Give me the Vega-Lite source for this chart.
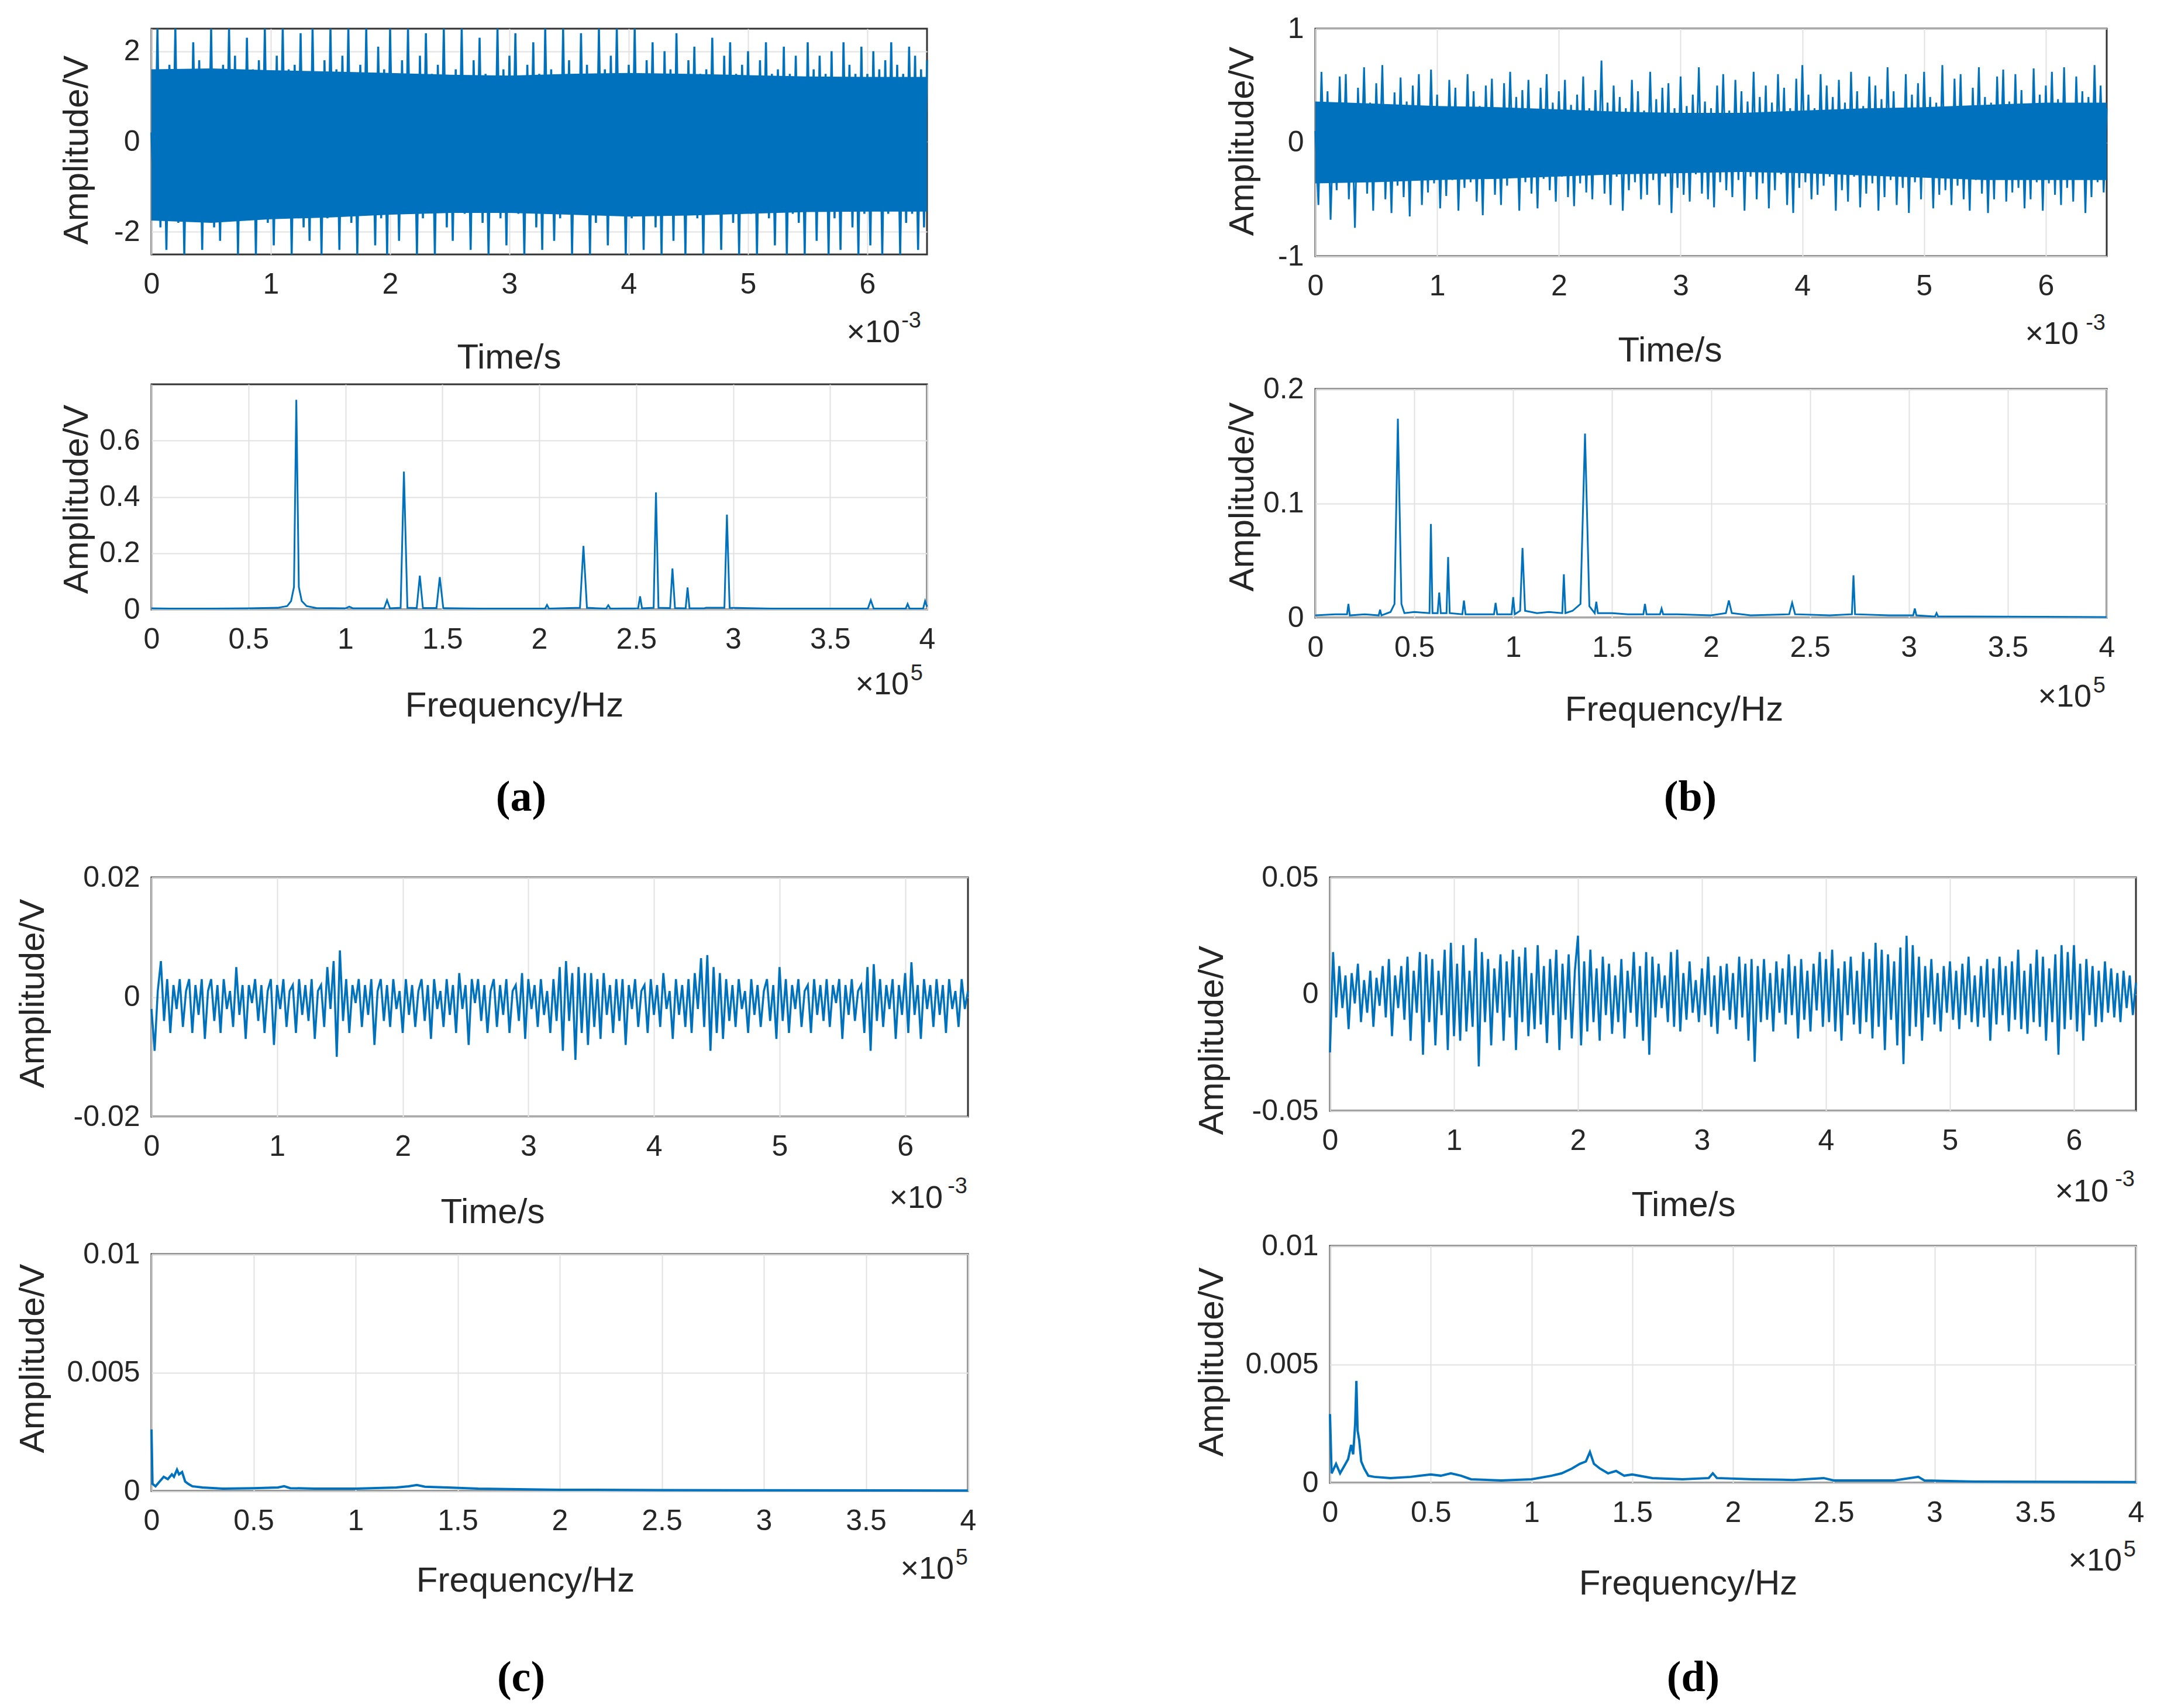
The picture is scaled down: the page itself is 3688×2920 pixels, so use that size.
{
"$schema": "https://vega.github.io/schema/vega-lite/v6.json",
"background": "white",
"padding": {"left": 24, "top": 22, "right": 10, "bottom": 10},
"config": {
 "view": {"stroke": "#333333", "strokeWidth": 3},
 "font": "Liberation Sans",
 "axis": {"grid": true, "gridColor": "#e2e2e2", "gridWidth": 2, "domain": false, "ticks": false, "labelFont": "Liberation Sans", "labelFontSize": 50, "labelColor": "#262626", "titleFont": "Liberation Sans", "titleFontSize": 60, "titleFontWeight": "normal", "titleColor": "#262626", "titleAlign": "center", "titleBaseline": "middle"},
 "axisX": {"labelFlush": false, "labelPadding": 26, "labelOverlap": false},
 "axisY": {"labelPadding": 20, "titleAngle": -90},
 "line": {"color": "#0072bd", "clip": true},
 "area": {"color": "#0072bd", "clip": true, "opacity": 1},
 "text": {"font": "Liberation Sans", "color": "#262626"},
 "title": {"font": "Liberation Serif", "fontSize": 74, "fontWeight": "bold", "color": "#000000", "orient": "bottom", "anchor": "middle", "frame": "group", "baseline": "top"}
},
"datasets": {
"ae": [
{"t":0,"lo":-1.75,"hi":1.6},{"t":0.5,"lo":-1.8,"hi":1.62},{"t":1,"lo":-1.72,"hi":1.58},{"t":1.5,"lo":-1.68,"hi":1.55},{"t":2,"lo":-1.62,"hi":1.52},{"t":2.5,"lo":-1.58,"hi":1.48},{"t":3,"lo":-1.58,"hi":1.46},{"t":3.5,"lo":-1.62,"hi":1.5},{"t":4,"lo":-1.66,"hi":1.52},{"t":4.5,"lo":-1.64,"hi":1.5},{"t":5,"lo":-1.6,"hi":1.47},{"t":5.5,"lo":-1.56,"hi":1.44},{"t":6,"lo":-1.55,"hi":1.43},{"t":6.5,"lo":-1.55,"hi":1.43}
],
"be": [
{"t":0,"lo":-0.36,"hi":0.36},{"t":0.5,"lo":-0.35,"hi":0.34},{"t":1,"lo":-0.33,"hi":0.32},{"t":1.5,"lo":-0.32,"hi":0.31},{"t":2,"lo":-0.3,"hi":0.29},{"t":2.5,"lo":-0.28,"hi":0.27},{"t":3,"lo":-0.27,"hi":0.26},{"t":3.5,"lo":-0.26,"hi":0.26},{"t":4,"lo":-0.27,"hi":0.28},{"t":4.5,"lo":-0.29,"hi":0.3},{"t":5,"lo":-0.31,"hi":0.31},{"t":5.5,"lo":-0.33,"hi":0.33},{"t":6,"lo":-0.33,"hi":0.35},{"t":6.5,"lo":-0.33,"hi":0.35}
],
"at": [
{"t":0,"v":0.2},{"t":0.025,"v":-1.7},{"t":0.05,"v":2.5},{"t":0.075,"v":-1.9},{"t":0.1,"v":1.5},{"t":0.125,"v":-2.4},{"t":0.15,"v":1.7},{"t":0.175,"v":-1.4},{"t":0.2,"v":2.5},{"t":0.225,"v":-1.8},
{"t":0.25,"v":1.6},{"t":0.275,"v":-2.5},{"t":0.3,"v":1.4},{"t":0.325,"v":-1.6},{"t":0.35,"v":2.2},{"t":0.375,"v":-1.5},{"t":0.4,"v":1.8},{"t":0.425,"v":-2.4},{"t":0.45,"v":1.6},{"t":0.475,"v":-1.3},
{"t":0.5,"v":2.5},{"t":0.525,"v":-1.9},{"t":0.55,"v":1.5},{"t":0.575,"v":-2.2},{"t":0.6,"v":1.7},{"t":0.625,"v":-1.6},{"t":0.65,"v":2.5},{"t":0.675,"v":-1.4},{"t":0.7,"v":1.9},{"t":0.725,"v":-2.5},
{"t":0.75,"v":1.5},{"t":0.775,"v":-1.7},{"t":0.8,"v":2.3},{"t":0.825,"v":-1.6},{"t":0.85,"v":1.6},{"t":0.875,"v":-2.5},{"t":0.9,"v":1.8},{"t":0.925,"v":-1.5},{"t":0.95,"v":2.5},{"t":0.975,"v":-1.8},
{"t":1,"v":1.4},{"t":1.025,"v":-2.3},{"t":1.05,"v":1.9},{"t":1.075,"v":-1.6},{"t":1.1,"v":2.5},{"t":1.125,"v":-1.5},{"t":1.15,"v":1.6},{"t":1.175,"v":-2.5},{"t":1.2,"v":1.7},{"t":1.225,"v":-1.4},
{"t":1.25,"v":2.4},{"t":1.275,"v":-1.9},{"t":1.3,"v":1.5},{"t":1.325,"v":-2.2},{"t":1.35,"v":2.5},{"t":1.375,"v":-1.6},{"t":1.4,"v":1.4},{"t":1.425,"v":-2.5},{"t":1.45,"v":1.8},{"t":1.475,"v":-1.7},
{"t":1.5,"v":2.5},{"t":1.525,"v":-1.5},{"t":1.55,"v":1.6},{"t":1.575,"v":-2.4},{"t":1.6,"v":1.9},{"t":1.625,"v":-1.4},{"t":1.65,"v":2.5},{"t":1.675,"v":-1.8},{"t":1.7,"v":1.5},{"t":1.725,"v":-2.5},
{"t":1.75,"v":1.7},{"t":1.775,"v":-1.6},{"t":1.8,"v":2.5},{"t":1.825,"v":-1.5},{"t":1.85,"v":1.4},{"t":1.875,"v":-2.3},{"t":1.9,"v":2.1},{"t":1.925,"v":-1.7},{"t":1.95,"v":1.6},{"t":1.975,"v":-2.5},
{"t":2,"v":2.5},{"t":2.025,"v":-1.4},{"t":2.05,"v":1.5},{"t":2.075,"v":-2.2},{"t":2.1,"v":1.8},{"t":2.125,"v":-1.6},{"t":2.15,"v":2.5},{"t":2.175,"v":-1.5},{"t":2.2,"v":1.3},{"t":2.225,"v":-2.5},
{"t":2.25,"v":1.9},{"t":2.275,"v":-1.7},{"t":2.3,"v":2.4},{"t":2.325,"v":-1.4},{"t":2.35,"v":1.5},{"t":2.375,"v":-2.5},{"t":2.4,"v":1.7},{"t":2.425,"v":-1.3},{"t":2.45,"v":2.5},{"t":2.475,"v":-1.9},
{"t":2.5,"v":1.4},{"t":2.525,"v":-2.2},{"t":2.55,"v":1.6},{"t":2.575,"v":-1.5},{"t":2.6,"v":2.5},{"t":2.625,"v":-1.6},{"t":2.65,"v":1.3},{"t":2.675,"v":-2.4},{"t":2.7,"v":1.8},{"t":2.725,"v":-1.4},
{"t":2.75,"v":2.3},{"t":2.775,"v":-1.8},{"t":2.8,"v":1.5},{"t":2.825,"v":-2.5},{"t":2.85,"v":1.4},{"t":2.875,"v":-1.5},{"t":2.9,"v":2.5},{"t":2.925,"v":-1.7},{"t":2.95,"v":1.6},{"t":2.975,"v":-2.3},
{"t":3,"v":1.9},{"t":3.025,"v":-1.4},{"t":3.05,"v":2.4},{"t":3.075,"v":-1.6},{"t":3.1,"v":1.3},{"t":3.125,"v":-2.5},{"t":3.15,"v":1.7},{"t":3.175,"v":-1.5},{"t":3.2,"v":2.2},{"t":3.225,"v":-1.9},
{"t":3.25,"v":1.5},{"t":3.275,"v":-2.4},{"t":3.3,"v":2.5},{"t":3.325,"v":-1.4},{"t":3.35,"v":1.6},{"t":3.375,"v":-2.2},{"t":3.4,"v":1.4},{"t":3.425,"v":-1.7},{"t":3.45,"v":2.5},{"t":3.475,"v":-1.5},
{"t":3.5,"v":1.8},{"t":3.525,"v":-2.5},{"t":3.55,"v":1.5},{"t":3.575,"v":-1.6},{"t":3.6,"v":2.4},{"t":3.625,"v":-1.4},{"t":3.65,"v":1.7},{"t":3.675,"v":-2.5},{"t":3.7,"v":1.4},{"t":3.725,"v":-1.8},
{"t":3.75,"v":2.5},{"t":3.775,"v":-1.5},{"t":3.8,"v":1.6},{"t":3.825,"v":-2.3},{"t":3.85,"v":1.9},{"t":3.875,"v":-1.6},{"t":3.9,"v":2.5},{"t":3.925,"v":-1.4},{"t":3.95,"v":1.5},{"t":3.975,"v":-2.5},
{"t":4,"v":1.7},{"t":4.025,"v":-1.7},{"t":4.05,"v":2.5},{"t":4.075,"v":-1.5},{"t":4.1,"v":1.4},{"t":4.125,"v":-2.4},{"t":4.15,"v":1.8},{"t":4.175,"v":-1.3},{"t":4.2,"v":2.2},{"t":4.225,"v":-1.9},
{"t":4.25,"v":1.5},{"t":4.275,"v":-2.5},{"t":4.3,"v":2.0},{"t":4.325,"v":-1.6},{"t":4.35,"v":1.6},{"t":4.375,"v":-2.2},{"t":4.4,"v":2.4},{"t":4.425,"v":-1.5},{"t":4.45,"v":1.4},{"t":4.475,"v":-2.5},
{"t":4.5,"v":1.8},{"t":4.525,"v":-1.4},{"t":4.55,"v":2.1},{"t":4.575,"v":-1.7},{"t":4.6,"v":1.5},{"t":4.625,"v":-2.5},{"t":4.65,"v":1.6},{"t":4.675,"v":-1.6},{"t":4.7,"v":2.3},{"t":4.725,"v":-1.5},
{"t":4.75,"v":1.4},{"t":4.775,"v":-2.4},{"t":4.8,"v":1.9},{"t":4.825,"v":-1.4},{"t":4.85,"v":2.2},{"t":4.875,"v":-1.8},{"t":4.9,"v":1.5},{"t":4.925,"v":-2.5},{"t":4.95,"v":1.7},{"t":4.975,"v":-1.5},
{"t":5,"v":2.0},{"t":5.025,"v":-1.6},{"t":5.05,"v":1.4},{"t":5.075,"v":-2.5},{"t":5.1,"v":1.8},{"t":5.125,"v":-1.5},{"t":5.15,"v":2.2},{"t":5.175,"v":-1.7},{"t":5.2,"v":1.5},{"t":5.225,"v":-2.3},
{"t":5.25,"v":1.6},{"t":5.275,"v":-1.4},{"t":5.3,"v":2.1},{"t":5.325,"v":-2.5},{"t":5.35,"v":1.5},{"t":5.375,"v":-1.6},{"t":5.4,"v":1.9},{"t":5.425,"v":-1.8},{"t":5.45,"v":1.4},{"t":5.475,"v":-2.5},
{"t":5.5,"v":2.2},{"t":5.525,"v":-1.5},{"t":5.55,"v":1.6},{"t":5.575,"v":-2.2},{"t":5.6,"v":1.9},{"t":5.625,"v":-1.4},{"t":5.65,"v":1.5},{"t":5.675,"v":-2.5},{"t":5.7,"v":2.0},{"t":5.725,"v":-1.7},
{"t":5.75,"v":1.4},{"t":5.775,"v":-2.4},{"t":5.8,"v":2.2},{"t":5.825,"v":-1.5},{"t":5.85,"v":1.7},{"t":5.875,"v":-1.9},{"t":5.9,"v":1.5},{"t":5.925,"v":-2.5},{"t":5.95,"v":2.1},{"t":5.975,"v":-1.6},
{"t":6,"v":1.5},{"t":6.025,"v":-2.3},{"t":6.05,"v":2.0},{"t":6.075,"v":-1.4},{"t":6.1,"v":1.6},{"t":6.125,"v":-2.5},{"t":6.15,"v":1.8},{"t":6.175,"v":-1.6},{"t":6.2,"v":2.2},{"t":6.225,"v":-1.5},
{"t":6.25,"v":1.7},{"t":6.275,"v":-2.5},{"t":6.3,"v":1.5},{"t":6.325,"v":-1.8},{"t":6.35,"v":2.1},{"t":6.375,"v":-1.6},{"t":6.4,"v":1.9},{"t":6.425,"v":-2.4},{"t":6.45,"v":1.6},{"t":6.475,"v":-1.9},
{"t":6.5,"v":1.8}
],
"bt": [
{"t":0,"v":0.1},{"t":0.025,"v":-0.55},{"t":0.05,"v":0.62},{"t":0.075,"v":-0.3},{"t":0.1,"v":0.45},{"t":0.125,"v":-0.68},{"t":0.15,"v":0.2},{"t":0.175,"v":-0.42},{"t":0.2,"v":0.58},{"t":0.225,"v":-0.35},
{"t":0.25,"v":0.6},{"t":0.275,"v":-0.5},{"t":0.3,"v":0.25},{"t":0.325,"v":-0.75},{"t":0.35,"v":0.48},{"t":0.375,"v":-0.3},{"t":0.4,"v":0.66},{"t":0.425,"v":-0.45},{"t":0.45,"v":0.35},{"t":0.475,"v":-0.6},
{"t":0.5,"v":0.52},{"t":0.525,"v":-0.28},{"t":0.55,"v":0.68},{"t":0.575,"v":-0.5},{"t":0.6,"v":0.3},{"t":0.625,"v":-0.62},{"t":0.65,"v":0.44},{"t":0.675,"v":-0.38},{"t":0.7,"v":0.57},{"t":0.725,"v":-0.48},
{"t":0.75,"v":0.36},{"t":0.775,"v":-0.65},{"t":0.8,"v":0.5},{"t":0.825,"v":-0.25},{"t":0.85,"v":0.6},{"t":0.875,"v":-0.55},{"t":0.9,"v":0.28},{"t":0.925,"v":-0.44},{"t":0.95,"v":0.64},{"t":0.975,"v":-0.36},
{"t":1,"v":0.42},{"t":1.025,"v":-0.58},{"t":1.05,"v":0.3},{"t":1.075,"v":-0.47},{"t":1.1,"v":0.55},{"t":1.125,"v":-0.33},{"t":1.15,"v":0.48},{"t":1.175,"v":-0.6},{"t":1.2,"v":0.25},{"t":1.225,"v":-0.4},
{"t":1.25,"v":0.6},{"t":1.275,"v":-0.35},{"t":1.3,"v":0.45},{"t":1.325,"v":-0.52},{"t":1.35,"v":0.32},{"t":1.375,"v":-0.64},{"t":1.4,"v":0.5},{"t":1.425,"v":-0.28},{"t":1.45,"v":0.56},{"t":1.475,"v":-0.46},
{"t":1.5,"v":0.3},{"t":1.525,"v":-0.55},{"t":1.55,"v":0.52},{"t":1.575,"v":-0.38},{"t":1.6,"v":0.62},{"t":1.625,"v":-0.3},{"t":1.65,"v":0.4},{"t":1.675,"v":-0.6},{"t":1.7,"v":0.46},{"t":1.725,"v":-0.35},
{"t":1.75,"v":0.55},{"t":1.775,"v":-0.45},{"t":1.8,"v":0.28},{"t":1.825,"v":-0.58},{"t":1.85,"v":0.48},{"t":1.875,"v":-0.32},{"t":1.9,"v":0.6},{"t":1.925,"v":-0.42},{"t":1.95,"v":0.35},{"t":1.975,"v":-0.52},
{"t":2,"v":0.45},{"t":2.025,"v":-0.3},{"t":2.05,"v":0.55},{"t":2.075,"v":-0.48},{"t":2.1,"v":0.33},{"t":2.125,"v":-0.56},{"t":2.15,"v":0.42},{"t":2.175,"v":-0.36},{"t":2.2,"v":0.58},{"t":2.225,"v":-0.44},
{"t":2.25,"v":0.3},{"t":2.275,"v":-0.5},{"t":2.3,"v":0.46},{"t":2.325,"v":-0.28},{"t":2.35,"v":0.72},{"t":2.375,"v":-0.45},{"t":2.4,"v":0.35},{"t":2.425,"v":-0.55},{"t":2.45,"v":0.5},{"t":2.475,"v":-0.3},
{"t":2.5,"v":0.4},{"t":2.525,"v":-0.6},{"t":2.55,"v":0.3},{"t":2.575,"v":-0.42},{"t":2.6,"v":0.55},{"t":2.625,"v":-0.35},{"t":2.65,"v":0.45},{"t":2.675,"v":-0.5},{"t":2.7,"v":0.28},{"t":2.725,"v":-0.46},
{"t":2.75,"v":0.62},{"t":2.775,"v":-0.33},{"t":2.8,"v":0.38},{"t":2.825,"v":-0.55},{"t":2.85,"v":0.48},{"t":2.875,"v":-0.3},{"t":2.9,"v":0.52},{"t":2.925,"v":-0.62},{"t":2.95,"v":0.3},{"t":2.975,"v":-0.4},
{"t":3,"v":0.58},{"t":3.025,"v":-0.46},{"t":3.05,"v":0.32},{"t":3.075,"v":-0.52},{"t":3.1,"v":0.42},{"t":3.125,"v":-0.28},{"t":3.15,"v":0.66},{"t":3.175,"v":-0.45},{"t":3.2,"v":0.36},{"t":3.225,"v":-0.5},
{"t":3.25,"v":0.3},{"t":3.275,"v":-0.57},{"t":3.3,"v":0.5},{"t":3.325,"v":-0.35},{"t":3.35,"v":0.6},{"t":3.375,"v":-0.42},{"t":3.4,"v":0.28},{"t":3.425,"v":-0.48},{"t":3.45,"v":0.55},{"t":3.475,"v":-0.33},
{"t":3.5,"v":0.45},{"t":3.525,"v":-0.6},{"t":3.55,"v":0.36},{"t":3.575,"v":-0.3},{"t":3.6,"v":0.62},{"t":3.625,"v":-0.5},{"t":3.65,"v":0.4},{"t":3.675,"v":-0.36},{"t":3.7,"v":0.5},{"t":3.725,"v":-0.58},
{"t":3.75,"v":0.35},{"t":3.775,"v":-0.42},{"t":3.8,"v":0.6},{"t":3.825,"v":-0.28},{"t":3.85,"v":0.48},{"t":3.875,"v":-0.55},{"t":3.9,"v":0.3},{"t":3.925,"v":-0.62},{"t":3.95,"v":0.56},{"t":3.975,"v":-0.4},
{"t":4,"v":0.68},{"t":4.025,"v":-0.35},{"t":4.05,"v":0.42},{"t":4.075,"v":-0.5},{"t":4.1,"v":0.3},{"t":4.125,"v":-0.46},{"t":4.15,"v":0.6},{"t":4.175,"v":-0.38},{"t":4.2,"v":0.5},{"t":4.225,"v":-0.3},
{"t":4.25,"v":0.4},{"t":4.275,"v":-0.6},{"t":4.3,"v":0.55},{"t":4.325,"v":-0.42},{"t":4.35,"v":0.35},{"t":4.375,"v":-0.52},{"t":4.4,"v":0.62},{"t":4.425,"v":-0.3},{"t":4.45,"v":0.45},{"t":4.475,"v":-0.57},
{"t":4.5,"v":0.32},{"t":4.525,"v":-0.45},{"t":4.55,"v":0.58},{"t":4.575,"v":-0.36},{"t":4.6,"v":0.5},{"t":4.625,"v":-0.6},{"t":4.65,"v":0.38},{"t":4.675,"v":-0.48},{"t":4.7,"v":0.66},{"t":4.725,"v":-0.33},
{"t":4.75,"v":0.45},{"t":4.775,"v":-0.55},{"t":4.8,"v":0.3},{"t":4.825,"v":-0.4},{"t":4.85,"v":0.6},{"t":4.875,"v":-0.62},{"t":4.9,"v":0.42},{"t":4.925,"v":-0.35},{"t":4.95,"v":0.52},{"t":4.975,"v":-0.5},
{"t":5,"v":0.62},{"t":5.025,"v":-0.3},{"t":5.05,"v":0.4},{"t":5.075,"v":-0.58},{"t":5.1,"v":0.35},{"t":5.125,"v":-0.46},{"t":5.15,"v":0.68},{"t":5.175,"v":-0.42},{"t":5.2,"v":0.3},{"t":5.225,"v":-0.55},
{"t":5.25,"v":0.56},{"t":5.275,"v":-0.38},{"t":5.3,"v":0.6},{"t":5.325,"v":-0.5},{"t":5.35,"v":0.32},{"t":5.375,"v":-0.6},{"t":5.4,"v":0.48},{"t":5.425,"v":-0.33},{"t":5.45,"v":0.66},{"t":5.475,"v":-0.45},
{"t":5.5,"v":0.4},{"t":5.525,"v":-0.62},{"t":5.55,"v":0.35},{"t":5.575,"v":-0.5},{"t":5.6,"v":0.58},{"t":5.625,"v":-0.3},{"t":5.65,"v":0.64},{"t":5.675,"v":-0.52},{"t":5.7,"v":0.36},{"t":5.725,"v":-0.44},
{"t":5.75,"v":0.6},{"t":5.775,"v":-0.4},{"t":5.8,"v":0.46},{"t":5.825,"v":-0.58},{"t":5.85,"v":0.3},{"t":5.875,"v":-0.5},{"t":5.9,"v":0.65},{"t":5.925,"v":-0.35},{"t":5.95,"v":0.42},{"t":5.975,"v":-0.6},
{"t":6,"v":0.5},{"t":6.025,"v":-0.36},{"t":6.05,"v":0.62},{"t":6.075,"v":-0.46},{"t":6.1,"v":0.38},{"t":6.125,"v":-0.55},{"t":6.15,"v":0.66},{"t":6.175,"v":-0.4},{"t":6.2,"v":0.32},{"t":6.225,"v":-0.52},
{"t":6.25,"v":0.58},{"t":6.275,"v":-0.3},{"t":6.3,"v":0.45},{"t":6.325,"v":-0.62},{"t":6.35,"v":0.4},{"t":6.375,"v":-0.48},{"t":6.4,"v":0.68},{"t":6.425,"v":-0.35},{"t":6.45,"v":0.5},{"t":6.475,"v":-0.44},
{"t":6.5,"v":0.3}
],
"ct": [
{"t":0,"v":-0.002},{"t":0.025,"v":-0.009},{"t":0.05,"v":0.001},{"t":0.075,"v":0.006},{"t":0.1,"v":-0.004},{"t":0.125,"v":0.003},{"t":0.15,"v":-0.006},{"t":0.175,"v":0.002},{"t":0.2,"v":-0.002},{"t":0.225,"v":0.003},
{"t":0.25,"v":-0.005},{"t":0.275,"v":0.001},{"t":0.3,"v":0.003},{"t":0.325,"v":-0.006},{"t":0.35,"v":0.002},{"t":0.375,"v":-0.003},{"t":0.4,"v":0.003},{"t":0.425,"v":-0.007},{"t":0.45,"v":0.001},{"t":0.475,"v":0.003},
{"t":0.5,"v":-0.004},{"t":0.525,"v":0.002},{"t":0.55,"v":-0.006},{"t":0.575,"v":0.003},{"t":0.6,"v":-0.002},{"t":0.625,"v":0.001},{"t":0.65,"v":-0.005},{"t":0.675,"v":0.005},{"t":0.7,"v":-0.003},{"t":0.725,"v":0.002},
{"t":0.75,"v":-0.007},{"t":0.775,"v":0.002},{"t":0.8,"v":-0.001},{"t":0.825,"v":0.003},{"t":0.85,"v":-0.004},{"t":0.875,"v":0.002},{"t":0.9,"v":-0.006},{"t":0.925,"v":0.001},{"t":0.95,"v":0.003},{"t":0.975,"v":-0.008},
{"t":1,"v":0.002},{"t":1.025,"v":-0.002},{"t":1.05,"v":0.003},{"t":1.075,"v":-0.005},{"t":1.1,"v":0.001},{"t":1.125,"v":0.002},{"t":1.15,"v":-0.006},{"t":1.175,"v":0.003},{"t":1.2,"v":-0.003},{"t":1.225,"v":0.002},
{"t":1.25,"v":-0.004},{"t":1.275,"v":0.003},{"t":1.3,"v":-0.007},{"t":1.325,"v":0.001},{"t":1.35,"v":0.002},{"t":1.375,"v":-0.005},{"t":1.4,"v":0.005},{"t":1.425,"v":-0.002},{"t":1.45,"v":0.006},{"t":1.475,"v":-0.01},
{"t":1.5,"v":0.0078},{"t":1.525,"v":-0.004},{"t":1.55,"v":0.003},{"t":1.575,"v":-0.006},{"t":1.6,"v":0.002},{"t":1.625,"v":-0.001},{"t":1.65,"v":0.003},{"t":1.675,"v":-0.005},{"t":1.7,"v":0.002},{"t":1.725,"v":-0.003},
{"t":1.75,"v":0.003},{"t":1.775,"v":-0.008},{"t":1.8,"v":0.001},{"t":1.825,"v":0.003},{"t":1.85,"v":-0.004},{"t":1.875,"v":0.002},{"t":1.9,"v":-0.005},{"t":1.925,"v":0.003},{"t":1.95,"v":-0.002},{"t":1.975,"v":0.001},
{"t":2,"v":-0.006},{"t":2.025,"v":0.003},{"t":2.05,"v":-0.003},{"t":2.075,"v":0.002},{"t":2.1,"v":-0.005},{"t":2.125,"v":0.001},{"t":2.15,"v":0.003},{"t":2.175,"v":-0.004},{"t":2.2,"v":0.002},{"t":2.225,"v":-0.007},
{"t":2.25,"v":0.003},{"t":2.275,"v":-0.002},{"t":2.3,"v":0.001},{"t":2.325,"v":-0.005},{"t":2.35,"v":0.003},{"t":2.375,"v":-0.003},{"t":2.4,"v":0.002},{"t":2.425,"v":-0.006},{"t":2.45,"v":0.004},{"t":2.475,"v":-0.002},
{"t":2.5,"v":0.002},{"t":2.525,"v":-0.008},{"t":2.55,"v":0.003},{"t":2.575,"v":-0.001},{"t":2.6,"v":0.003},{"t":2.625,"v":-0.004},{"t":2.65,"v":0.002},{"t":2.675,"v":-0.006},{"t":2.7,"v":0.001},{"t":2.725,"v":0.003},
{"t":2.75,"v":-0.005},{"t":2.775,"v":0.002},{"t":2.8,"v":-0.003},{"t":2.825,"v":0.003},{"t":2.85,"v":-0.006},{"t":2.875,"v":0.001},{"t":2.9,"v":0.002},{"t":2.925,"v":-0.004},{"t":2.95,"v":0.004},{"t":2.975,"v":-0.007},
{"t":3,"v":0.003},{"t":3.025,"v":-0.002},{"t":3.05,"v":0.002},{"t":3.075,"v":-0.005},{"t":3.1,"v":0.003},{"t":3.125,"v":-0.003},{"t":3.15,"v":0.001},{"t":3.175,"v":-0.006},{"t":3.2,"v":0.003},{"t":3.225,"v":-0.004},
{"t":3.25,"v":0.005},{"t":3.275,"v":-0.009},{"t":3.3,"v":0.006},{"t":3.325,"v":-0.004},{"t":3.35,"v":0.004},{"t":3.375,"v":-0.0105},{"t":3.4,"v":0.005},{"t":3.425,"v":-0.006},{"t":3.45,"v":0.004},{"t":3.475,"v":-0.008},
{"t":3.5,"v":0.004},{"t":3.525,"v":-0.005},{"t":3.55,"v":0.003},{"t":3.575,"v":-0.007},{"t":3.6,"v":0.004},{"t":3.625,"v":-0.003},{"t":3.65,"v":0.002},{"t":3.675,"v":-0.006},{"t":3.7,"v":0.003},{"t":3.725,"v":-0.004},
{"t":3.75,"v":0.003},{"t":3.775,"v":-0.008},{"t":3.8,"v":0.002},{"t":3.825,"v":-0.002},{"t":3.85,"v":0.003},{"t":3.875,"v":-0.005},{"t":3.9,"v":0.001},{"t":3.925,"v":0.002},{"t":3.95,"v":-0.006},{"t":3.975,"v":0.003},
{"t":4,"v":-0.003},{"t":4.025,"v":0.002},{"t":4.05,"v":-0.005},{"t":4.075,"v":0.004},{"t":4.1,"v":-0.002},{"t":4.125,"v":0.001},{"t":4.15,"v":-0.007},{"t":4.175,"v":0.003},{"t":4.2,"v":-0.003},{"t":4.225,"v":0.002},
{"t":4.25,"v":-0.005},{"t":4.275,"v":0.003},{"t":4.3,"v":-0.006},{"t":4.325,"v":0.004},{"t":4.35,"v":-0.002},{"t":4.375,"v":0.0065},{"t":4.4,"v":-0.005},{"t":4.425,"v":0.007},{"t":4.45,"v":-0.009},{"t":4.475,"v":0.005},
{"t":4.5,"v":-0.006},{"t":4.525,"v":0.004},{"t":4.55,"v":-0.007},{"t":4.575,"v":0.003},{"t":4.6,"v":-0.004},{"t":4.625,"v":0.002},{"t":4.65,"v":-0.005},{"t":4.675,"v":0.003},{"t":4.7,"v":-0.002},{"t":4.725,"v":0.001},
{"t":4.75,"v":-0.006},{"t":4.775,"v":0.003},{"t":4.8,"v":-0.003},{"t":4.825,"v":0.002},{"t":4.85,"v":-0.005},{"t":4.875,"v":0.001},{"t":4.9,"v":0.003},{"t":4.925,"v":-0.004},{"t":4.95,"v":0.002},{"t":4.975,"v":-0.007},
{"t":5,"v":0.005},{"t":5.025,"v":-0.004},{"t":5.05,"v":0.003},{"t":5.075,"v":-0.006},{"t":5.1,"v":0.002},{"t":5.125,"v":-0.002},{"t":5.15,"v":0.003},{"t":5.175,"v":-0.005},{"t":5.2,"v":0.001},{"t":5.225,"v":0.002},
{"t":5.25,"v":-0.006},{"t":5.275,"v":0.003},{"t":5.3,"v":-0.003},{"t":5.325,"v":0.002},{"t":5.35,"v":-0.004},{"t":5.375,"v":0.003},{"t":5.4,"v":-0.005},{"t":5.425,"v":0.002},{"t":5.45,"v":-0.001},{"t":5.475,"v":0.003},
{"t":5.5,"v":-0.007},{"t":5.525,"v":0.002},{"t":5.55,"v":-0.003},{"t":5.575,"v":0.003},{"t":5.6,"v":-0.004},{"t":5.625,"v":0.001},{"t":5.65,"v":0.002},{"t":5.675,"v":-0.006},{"t":5.7,"v":0.005},{"t":5.725,"v":-0.009},
{"t":5.75,"v":0.0055},{"t":5.775,"v":-0.004},{"t":5.8,"v":0.003},{"t":5.825,"v":-0.005},{"t":5.85,"v":0.002},{"t":5.875,"v":-0.002},{"t":5.9,"v":0.003},{"t":5.925,"v":-0.007},{"t":5.95,"v":0.002},{"t":5.975,"v":-0.003},
{"t":6,"v":0.004},{"t":6.025,"v":-0.006},{"t":6.05,"v":0.0058},{"t":6.075,"v":-0.003},{"t":6.1,"v":0.002},{"t":6.125,"v":-0.007},{"t":6.15,"v":0.003},{"t":6.175,"v":-0.002},{"t":6.2,"v":0.002},{"t":6.225,"v":-0.005},
{"t":6.25,"v":0.003},{"t":6.275,"v":-0.003},{"t":6.3,"v":0.002},{"t":6.325,"v":-0.006},{"t":6.35,"v":0.003},{"t":6.375,"v":-0.002},{"t":6.4,"v":0.001},{"t":6.425,"v":-0.005},{"t":6.45,"v":0.003},{"t":6.475,"v":-0.002},
{"t":6.5,"v":0.001}
],
"dt": [
{"t":0,"v":-0.025},{"t":0.025,"v":0.018},{"t":0.05,"v":-0.01},{"t":0.075,"v":0.012},{"t":0.1,"v":-0.006},{"t":0.125,"v":0.008},{"t":0.15,"v":-0.015},{"t":0.175,"v":0.009},{"t":0.2,"v":-0.004},{"t":0.225,"v":0.013},
{"t":0.25,"v":-0.012},{"t":0.275,"v":0.006},{"t":0.3,"v":-0.008},{"t":0.325,"v":0.01},{"t":0.35,"v":-0.014},{"t":0.375,"v":0.007},{"t":0.4,"v":-0.005},{"t":0.425,"v":0.012},{"t":0.45,"v":-0.01},{"t":0.475,"v":0.015},
{"t":0.5,"v":-0.018},{"t":0.525,"v":0.008},{"t":0.55,"v":-0.006},{"t":0.575,"v":0.012},{"t":0.6,"v":-0.011},{"t":0.625,"v":0.016},{"t":0.65,"v":-0.02},{"t":0.675,"v":0.01},{"t":0.7,"v":-0.008},{"t":0.725,"v":0.018},
{"t":0.75,"v":-0.026},{"t":0.775,"v":0.017},{"t":0.8,"v":-0.012},{"t":0.825,"v":0.015},{"t":0.85,"v":-0.022},{"t":0.875,"v":0.01},{"t":0.9,"v":-0.009},{"t":0.925,"v":0.019},{"t":0.95,"v":-0.024},{"t":0.975,"v":0.022},
{"t":1,"v":-0.018},{"t":1.025,"v":0.013},{"t":1.05,"v":-0.02},{"t":1.075,"v":0.021},{"t":1.1,"v":-0.016},{"t":1.125,"v":0.01},{"t":1.15,"v":-0.014},{"t":1.175,"v":0.024},{"t":1.2,"v":-0.031},{"t":1.225,"v":0.018},
{"t":1.25,"v":-0.012},{"t":1.275,"v":0.015},{"t":1.3,"v":-0.022},{"t":1.325,"v":0.011},{"t":1.35,"v":-0.008},{"t":1.375,"v":0.017},{"t":1.4,"v":-0.02},{"t":1.425,"v":0.014},{"t":1.45,"v":-0.01},{"t":1.475,"v":0.019},
{"t":1.5,"v":-0.024},{"t":1.525,"v":0.016},{"t":1.55,"v":-0.012},{"t":1.575,"v":0.02},{"t":1.6,"v":-0.018},{"t":1.625,"v":0.009},{"t":1.65,"v":-0.015},{"t":1.675,"v":0.021},{"t":1.7,"v":-0.013},{"t":1.725,"v":0.012},
{"t":1.75,"v":-0.021},{"t":1.775,"v":0.015},{"t":1.8,"v":-0.009},{"t":1.825,"v":0.019},{"t":1.85,"v":-0.024},{"t":1.875,"v":0.013},{"t":1.9,"v":-0.011},{"t":1.925,"v":0.017},{"t":1.95,"v":-0.019},{"t":1.975,"v":0.01},
{"t":2,"v":0.025},{"t":2.025,"v":-0.022},{"t":2.05,"v":0.014},{"t":2.075,"v":-0.016},{"t":2.1,"v":0.019},{"t":2.125,"v":-0.012},{"t":2.15,"v":0.011},{"t":2.175,"v":-0.02},{"t":2.2,"v":0.016},{"t":2.225,"v":-0.009},
{"t":2.25,"v":0.013},{"t":2.275,"v":-0.017},{"t":2.3,"v":0.008},{"t":2.325,"v":-0.012},{"t":2.35,"v":0.015},{"t":2.375,"v":-0.019},{"t":2.4,"v":0.01},{"t":2.425,"v":-0.008},{"t":2.45,"v":0.018},{"t":2.475,"v":-0.014},
{"t":2.5,"v":0.012},{"t":2.525,"v":-0.02},{"t":2.55,"v":0.018},{"t":2.575,"v":-0.026},{"t":2.6,"v":0.016},{"t":2.625,"v":-0.01},{"t":2.65,"v":0.013},{"t":2.675,"v":-0.006},{"t":2.7,"v":0.008},{"t":2.725,"v":-0.012},
{"t":2.75,"v":0.018},{"t":2.775,"v":-0.014},{"t":2.8,"v":0.019},{"t":2.825,"v":-0.016},{"t":2.85,"v":0.009},{"t":2.875,"v":-0.011},{"t":2.9,"v":0.014},{"t":2.925,"v":-0.008},{"t":2.95,"v":0.006},{"t":2.975,"v":-0.012},
{"t":3,"v":0.011},{"t":3.025,"v":-0.009},{"t":3.05,"v":0.016},{"t":3.075,"v":-0.014},{"t":3.1,"v":0.008},{"t":3.125,"v":-0.017},{"t":3.15,"v":0.012},{"t":3.175,"v":-0.007},{"t":3.2,"v":0.013},{"t":3.225,"v":-0.011},
{"t":3.25,"v":0.009},{"t":3.275,"v":-0.015},{"t":3.3,"v":0.016},{"t":3.325,"v":-0.01},{"t":3.35,"v":0.013},{"t":3.375,"v":-0.02},{"t":3.4,"v":0.015},{"t":3.425,"v":-0.029},{"t":3.45,"v":0.012},{"t":3.475,"v":-0.012},
{"t":3.5,"v":0.015},{"t":3.525,"v":-0.011},{"t":3.55,"v":0.009},{"t":3.575,"v":-0.016},{"t":3.6,"v":0.014},{"t":3.625,"v":-0.008},{"t":3.65,"v":0.011},{"t":3.675,"v":-0.013},{"t":3.7,"v":0.017},{"t":3.725,"v":-0.009},
{"t":3.75,"v":0.012},{"t":3.775,"v":-0.019},{"t":3.8,"v":0.015},{"t":3.825,"v":-0.011},{"t":3.85,"v":0.01},{"t":3.875,"v":-0.016},{"t":3.9,"v":0.013},{"t":3.925,"v":-0.007},{"t":3.95,"v":0.018},{"t":3.975,"v":-0.014},
{"t":4,"v":0.015},{"t":4.025,"v":-0.012},{"t":4.05,"v":0.019},{"t":4.075,"v":-0.016},{"t":4.1,"v":0.011},{"t":4.125,"v":-0.02},{"t":4.15,"v":0.014},{"t":4.175,"v":-0.009},{"t":4.2,"v":0.016},{"t":4.225,"v":-0.013},
{"t":4.25,"v":0.01},{"t":4.275,"v":-0.017},{"t":4.3,"v":0.018},{"t":4.325,"v":-0.012},{"t":4.35,"v":0.015},{"t":4.375,"v":-0.019},{"t":4.4,"v":0.022},{"t":4.425,"v":-0.014},{"t":4.45,"v":0.019},{"t":4.475,"v":-0.024},
{"t":4.5,"v":0.017},{"t":4.525,"v":-0.011},{"t":4.55,"v":0.014},{"t":4.575,"v":-0.022},{"t":4.6,"v":0.02},{"t":4.625,"v":-0.03},{"t":4.65,"v":0.025},{"t":4.675,"v":-0.018},{"t":4.7,"v":0.021},{"t":4.725,"v":-0.014},
{"t":4.75,"v":0.016},{"t":4.775,"v":-0.02},{"t":4.8,"v":0.012},{"t":4.825,"v":-0.01},{"t":4.85,"v":0.015},{"t":4.875,"v":-0.013},{"t":4.9,"v":0.009},{"t":4.925,"v":-0.016},{"t":4.95,"v":0.012},{"t":4.975,"v":-0.008},
{"t":5,"v":0.014},{"t":5.025,"v":-0.011},{"t":5.05,"v":0.01},{"t":5.075,"v":-0.015},{"t":5.1,"v":0.013},{"t":5.125,"v":-0.009},{"t":5.15,"v":0.016},{"t":5.175,"v":-0.012},{"t":5.2,"v":0.008},{"t":5.225,"v":-0.014},
{"t":5.25,"v":0.012},{"t":5.275,"v":-0.01},{"t":5.3,"v":0.015},{"t":5.325,"v":-0.02},{"t":5.35,"v":0.011},{"t":5.375,"v":-0.013},{"t":5.4,"v":0.016},{"t":5.425,"v":-0.009},{"t":5.45,"v":0.012},{"t":5.475,"v":-0.016},
{"t":5.5,"v":0.014},{"t":5.525,"v":-0.011},{"t":5.55,"v":0.019},{"t":5.575,"v":-0.015},{"t":5.6,"v":0.01},{"t":5.625,"v":-0.017},{"t":5.65,"v":0.013},{"t":5.675,"v":-0.012},{"t":5.7,"v":0.019},{"t":5.725,"v":-0.014},
{"t":5.75,"v":0.016},{"t":5.775,"v":-0.02},{"t":5.8,"v":0.011},{"t":5.825,"v":-0.012},{"t":5.85,"v":0.017},{"t":5.875,"v":-0.026},{"t":5.9,"v":0.021},{"t":5.925,"v":-0.015},{"t":5.95,"v":0.018},{"t":5.975,"v":-0.011},
{"t":6,"v":0.021},{"t":6.025,"v":-0.016},{"t":6.05,"v":0.013},{"t":6.075,"v":-0.02},{"t":6.1,"v":0.015},{"t":6.125,"v":-0.009},{"t":6.15,"v":0.012},{"t":6.175,"v":-0.014},{"t":6.2,"v":0.01},{"t":6.225,"v":-0.012},
{"t":6.25,"v":0.014},{"t":6.275,"v":-0.008},{"t":6.3,"v":0.011},{"t":6.325,"v":-0.01},{"t":6.35,"v":0.009},{"t":6.375,"v":-0.012},{"t":6.4,"v":0.01},{"t":6.425,"v":-0.006},{"t":6.45,"v":0.008},{"t":6.475,"v":-0.009},
{"t":6.5,"v":0.005}
],
"af": [
{"f":0,"a":0.004},{"f":10000,"a":0.003},{"f":30000,"a":0.003},{"f":50000,"a":0.004},{"f":65000,"a":0.006},{"f":70000,"a":0.012},{"f":72000,"a":0.03},{"f":73500,"a":0.08},{"f":74700,"a":0.745},{"f":76000,"a":0.08},{"f":77500,"a":0.03},{"f":80000,"a":0.012},{"f":85000,"a":0.005},{"f":100000,"a":0.004},{"f":102000,"a":0.01},{"f":104000,"a":0.004},{"f":120000,"a":0.004},{"f":121500,"a":0.033},{"f":123000,"a":0.004},{"f":128500,"a":0.006},{"f":130200,"a":0.49},{"f":132000,"a":0.006},{"f":136800,"a":0.005},{"f":138400,"a":0.12},{"f":140000,"a":0.005},{"f":147000,"a":0.005},{"f":148700,"a":0.115},{"f":150500,"a":0.005},{"f":170000,"a":0.003},{"f":203000,"a":0.003},{"f":204000,"a":0.016},{"f":205000,"a":0.003},{"f":221000,"a":0.006},{"f":222800,"a":0.226},{"f":224600,"a":0.006},{"f":234500,"a":0.003},{"f":235600,"a":0.015},{"f":236700,"a":0.003},{"f":251000,"a":0.004},{"f":252000,"a":0.047},{"f":253000,"a":0.004},{"f":259000,"a":0.006},{"f":260200,"a":0.416},{"f":261500,"a":0.006},{"f":267500,"a":0.005},{"f":268700,"a":0.146},{"f":270000,"a":0.005},{"f":275500,"a":0.004},{"f":276500,"a":0.078},{"f":277500,"a":0.004},{"f":285000,"a":0.004},{"f":286000,"a":0.006},{"f":295500,"a":0.006},{"f":296800,"a":0.337},{"f":298200,"a":0.006},{"f":320000,"a":0.003},{"f":369500,"a":0.003},{"f":371000,"a":0.033},{"f":372500,"a":0.003},{"f":389000,"a":0.003},{"f":390000,"a":0.02},{"f":391000,"a":0.003},{"f":398000,"a":0.003},{"f":399000,"a":0.03},{"f":400000,"a":0.01}
],
"bf": [
{"f":0,"a":0.002},{"f":10000,"a":0.003},{"f":16000,"a":0.003},{"f":16700,"a":0.012},{"f":17400,"a":0.002},{"f":25000,"a":0.003},{"f":32000,"a":0.002},{"f":32700,"a":0.007},{"f":33400,"a":0.002},{"f":38000,"a":0.005},{"f":40000,"a":0.012},{"f":41700,"a":0.174},{"f":43500,"a":0.012},{"f":45000,"a":0.004},{"f":50000,"a":0.005},{"f":57700,"a":0.004},{"f":58400,"a":0.082},{"f":59200,"a":0.004},{"f":61800,"a":0.004},{"f":62600,"a":0.022},{"f":63400,"a":0.004},{"f":66300,"a":0.004},{"f":67100,"a":0.053},{"f":67900,"a":0.004},{"f":74300,"a":0.003},{"f":75100,"a":0.015},{"f":75900,"a":0.003},{"f":82000,"a":0.003},{"f":90300,"a":0.003},{"f":91100,"a":0.013},{"f":91900,"a":0.003},{"f":99200,"a":0.003},{"f":100000,"a":0.018},{"f":100800,"a":0.003},{"f":103500,"a":0.006},{"f":104700,"a":0.061},{"f":106000,"a":0.006},{"f":112000,"a":0.004},{"f":118000,"a":0.005},{"f":124800,"a":0.004},{"f":125600,"a":0.038},{"f":126400,"a":0.004},{"f":130000,"a":0.006},{"f":134000,"a":0.012},{"f":136300,"a":0.161},{"f":138500,"a":0.01},{"f":141200,"a":0.004},{"f":142000,"a":0.014},{"f":142800,"a":0.004},{"f":150000,"a":0.004},{"f":158000,"a":0.003},{"f":165800,"a":0.003},{"f":166600,"a":0.012},{"f":167400,"a":0.003},{"f":174200,"a":0.003},{"f":175000,"a":0.008},{"f":175800,"a":0.003},{"f":183000,"a":0.003},{"f":200000,"a":0.002},{"f":207500,"a":0.004},{"f":209000,"a":0.015},{"f":210500,"a":0.004},{"f":220000,"a":0.002},{"f":239500,"a":0.003},{"f":241000,"a":0.013},{"f":242500,"a":0.003},{"f":260000,"a":0.002},{"f":271200,"a":0.003},{"f":272000,"a":0.037},{"f":272800,"a":0.003},{"f":290000,"a":0.002},{"f":302200,"a":0.002},{"f":303000,"a":0.008},{"f":303800,"a":0.002},{"f":313200,"a":0.001},{"f":314000,"a":0.004},{"f":314800,"a":0.001},{"f":330000,"a":0.001},{"f":400000,"a":0.0005}
],
"cf": [
{"f":0,"a":0.0026},{"f":500,"a":0.0003},{"f":2000,"a":0.0002},{"f":4000,"a":0.0004},{"f":6000,"a":0.0006},{"f":8000,"a":0.0005},{"f":10000,"a":0.0007},{"f":11000,"a":0.0006},{"f":12500,"a":0.0009},{"f":13500,"a":0.0007},{"f":15000,"a":0.0008},{"f":16500,"a":0.0004},{"f":18000,"a":0.0003},{"f":20000,"a":0.0002},{"f":25000,"a":0.00015},{"f":35000,"a":0.0001},{"f":50000,"a":0.00012},{"f":62000,"a":0.00015},{"f":65000,"a":0.0002},{"f":68000,"a":0.00012},{"f":80000,"a":0.0001},{"f":100000,"a":0.0001},{"f":120000,"a":0.00015},{"f":126000,"a":0.0002},{"f":130000,"a":0.00025},{"f":134000,"a":0.00018},{"f":145000,"a":0.00015},{"f":160000,"a":0.0001},{"f":200000,"a":0.00005},{"f":250000,"a":0.00004},{"f":300000,"a":0.00003},{"f":400000,"a":0.00002}
],
"df": [
{"f":0,"a":0.0029},{"f":800,"a":0.0004},{"f":3000,"a":0.0008},{"f":5000,"a":0.0004},{"f":7000,"a":0.0007},{"f":9000,"a":0.001},{"f":10500,"a":0.0016},{"f":11500,"a":0.0012},{"f":12500,"a":0.0025},{"f":13100,"a":0.0043},{"f":13700,"a":0.0022},{"f":14500,"a":0.0018},{"f":15500,"a":0.0009},{"f":17000,"a":0.0006},{"f":19000,"a":0.0003},{"f":22000,"a":0.00025},{"f":30000,"a":0.0002},{"f":40000,"a":0.00025},{"f":45000,"a":0.0003},{"f":50000,"a":0.00035},{"f":55000,"a":0.0003},{"f":60000,"a":0.0004},{"f":65000,"a":0.0003},{"f":70000,"a":0.00015},{"f":85000,"a":0.0001},{"f":100000,"a":0.00015},{"f":110000,"a":0.0003},{"f":115000,"a":0.0004},{"f":120000,"a":0.0006},{"f":124000,"a":0.0008},{"f":127000,"a":0.0009},{"f":129000,"a":0.0013},{"f":131000,"a":0.0008},{"f":134000,"a":0.0006},{"f":138000,"a":0.0004},{"f":142000,"a":0.0005},{"f":146000,"a":0.0003},{"f":150000,"a":0.00035},{"f":160000,"a":0.0002},{"f":175000,"a":0.00015},{"f":188000,"a":0.0002},{"f":190000,"a":0.0004},{"f":192000,"a":0.0002},{"f":210000,"a":0.00015},{"f":230000,"a":0.00012},{"f":245000,"a":0.0002},{"f":250000,"a":0.0001},{"f":280000,"a":0.0001},{"f":292000,"a":0.00025},{"f":295000,"a":0.0001},{"f":320000,"a":0.00005},{"f":400000,"a":0.00003}
]
},
"bounds": "flush",
"spacing": 1451,
"vconcat": [
{
 "bounds": "flush",
 "spacing": 1990,
 "hconcat": [
  {
   "bounds": "flush",
   "spacing": 222,
   "title": {"text": "(a)", "offset": 90, "dx": 632},
   "vconcat": [
    {"width": 1326, "height": 386, "layer": [
     {"data": {"name": "ae"}, "mark": {"type": "area"},
      "encoding": {
       "x": {"field": "t", "type": "quantitative", "title": "Time/s"},
       "y": {"field": "lo", "type": "quantitative", "title": "Amplitude/V"},
       "y2": {"field": "hi"}}},
     {"data": {"name": "at"}, "mark": {"type": "line", "strokeWidth": 3.5},
      "encoding": {
       "x": {"field": "t", "type": "quantitative", "scale": {"domain": [0, 6.5], "nice": false, "zero": false}, "axis": {"values": [0,1,2,3,4,5,6], "labelExpr": "format(datum.value, '~g')", "title": "Time/s", "titleX": 611, "titleY": 176}},
       "y": {"field": "v", "type": "quantitative", "scale": {"domain": [-2.5, 2.5], "nice": false}, "axis": {"values": [-2,0,2], "labelExpr": "replace(format(datum.value, '~g'), '−', '-')", "title": "Amplitude/V", "titleX": -128, "titleY": 207}}}},
     {"data": {"values": [{}]}, "mark": {"type": "text", "text": "×10", "align": "right", "baseline": "middle", "dx": -46, "dy": 134, "fontSize": 54},
      "encoding": {"x": {"datum": 6.5}, "y": {"datum": -2.5}}},
     {"data": {"values": [{}]}, "mark": {"type": "text", "text": "-3", "align": "right", "baseline": "middle", "dx": -10, "dy": 114, "fontSize": 38},
      "encoding": {"x": {"datum": 6.5}, "y": {"datum": -2.5}}}
    ]},
    {"width": 1326, "height": 385, "layer": [
     {"data": {"name": "af"}, "mark": {"type": "line", "strokeWidth": 3},
      "encoding": {
       "x": {"field": "f", "type": "quantitative", "scale": {"domain": [0, 400000], "nice": false, "zero": false}, "axis": {"values": [0,50000,100000,150000,200000,250000,300000,350000,400000], "labelExpr": "format(datum.value / 100000, '~g')", "title": "Frequency/Hz", "titleX": 620, "titleY": 164}},
       "y": {"field": "a", "type": "quantitative", "scale": {"domain": [0, 0.8], "nice": false}, "axis": {"values": [0,0.2,0.4,0.6], "labelExpr": "format(datum.value, '~g')", "title": "Amplitude/V", "titleX": -128, "titleY": 196}}}},
     {"data": {"values": [{}]}, "mark": {"type": "text", "text": "×10", "align": "right", "baseline": "middle", "dx": -31, "dy": 129, "fontSize": 54},
      "encoding": {"x": {"datum": 400000}, "y": {"datum": 0}}},
     {"data": {"values": [{}]}, "mark": {"type": "text", "text": "5", "align": "right", "baseline": "middle", "dx": -7, "dy": 110, "fontSize": 38},
      "encoding": {"x": {"datum": 400000}, "y": {"datum": 0}}}
    ]}
   ]
  },
  {
   "bounds": "flush",
   "spacing": 227,
   "title": {"text": "(b)", "offset": 83, "dx": 641},
   "vconcat": [
    {"width": 1353, "height": 389, "layer": [
     {"data": {"name": "be"}, "mark": {"type": "area"},
      "encoding": {
       "x": {"field": "t", "type": "quantitative", "title": "Time/s"},
       "y": {"field": "lo", "type": "quantitative", "title": "Amplitude/V"},
       "y2": {"field": "hi"}}},
     {"data": {"name": "bt"}, "mark": {"type": "line", "strokeWidth": 3},
      "encoding": {
       "x": {"field": "t", "type": "quantitative", "scale": {"domain": [0, 6.5], "nice": false, "zero": false}, "axis": {"values": [0,1,2,3,4,5,6], "labelExpr": "format(datum.value, '~g')", "title": "Time/s", "titleX": 606, "titleY": 161}},
       "y": {"field": "v", "type": "quantitative", "scale": {"domain": [-1, 1], "nice": false}, "axis": {"values": [-1,0,1], "labelExpr": "replace(format(datum.value, '~g'), '−', '-')", "title": "Amplitude/V", "titleX": -125, "titleY": 192}}}},
     {"data": {"values": [{}]}, "mark": {"type": "text", "text": "×10", "align": "right", "baseline": "middle", "dx": -48, "dy": 134, "fontSize": 54},
      "encoding": {"x": {"datum": 6.5}, "y": {"datum": -1}}},
     {"data": {"values": [{}]}, "mark": {"type": "text", "text": "-3", "align": "right", "baseline": "middle", "dx": -2, "dy": 115, "fontSize": 38},
      "encoding": {"x": {"datum": 6.5}, "y": {"datum": -1}}}
    ]},
    {"width": 1353, "height": 391, "layer": [
     {"data": {"name": "bf"}, "mark": {"type": "line", "strokeWidth": 3},
      "encoding": {
       "x": {"field": "f", "type": "quantitative", "scale": {"domain": [0, 400000], "nice": false, "zero": false}, "axis": {"values": [0,50000,100000,150000,200000,250000,300000,350000,400000], "labelExpr": "format(datum.value / 100000, '~g')", "title": "Frequency/Hz", "titleX": 613, "titleY": 157}},
       "y": {"field": "a", "type": "quantitative", "scale": {"domain": [0, 0.2], "nice": false}, "axis": {"values": [0,0.1,0.2], "labelExpr": "format(datum.value, '~g')", "title": "Amplitude/V", "titleX": -125, "titleY": 184}}}},
     {"data": {"values": [{}]}, "mark": {"type": "text", "text": "×10", "align": "right", "baseline": "middle", "dx": -26, "dy": 136, "fontSize": 54},
      "encoding": {"x": {"datum": 400000}, "y": {"datum": 0}}},
     {"data": {"values": [{}]}, "mark": {"type": "text", "text": "5", "align": "right", "baseline": "middle", "dx": -2, "dy": 117, "fontSize": 38},
      "encoding": {"x": {"datum": 400000}, "y": {"datum": 0}}}
    ]}
   ]
  }
 ]
},
{
 "bounds": "flush",
 "spacing": 2015,
 "hconcat": [
  {
   "bounds": "flush",
   "spacing": 235,
   "title": {"text": "(c)", "offset": 99, "dx": 632},
   "vconcat": [
    {"width": 1396, "height": 409, "layer": [
     {"data": {"name": "ct"}, "mark": {"type": "line", "strokeWidth": 3.5},
      "encoding": {
       "x": {"field": "t", "type": "quantitative", "scale": {"domain": [0, 6.5], "nice": false, "zero": false}, "axis": {"values": [0,1,2,3,4,5,6], "labelExpr": "format(datum.value, '~g')", "title": "Time/s", "titleX": 583, "titleY": 163}},
       "y": {"field": "v", "type": "quantitative", "scale": {"domain": [-0.02, 0.02], "nice": false}, "axis": {"values": [-0.02,0,0.02], "labelExpr": "replace(format(datum.value, '~g'), '−', '-')", "title": "Amplitude/V", "titleX": -203, "titleY": 198}}}},
     {"data": {"values": [{}]}, "mark": {"type": "text", "text": "×10", "align": "right", "baseline": "middle", "dx": -43, "dy": 140, "fontSize": 54},
      "encoding": {"x": {"datum": 6.5}, "y": {"datum": -0.02}}},
     {"data": {"values": [{}]}, "mark": {"type": "text", "text": "-3", "align": "right", "baseline": "middle", "dx": -1, "dy": 120, "fontSize": 38},
      "encoding": {"x": {"datum": 6.5}, "y": {"datum": -0.02}}}
    ]},
    {"width": 1396, "height": 405, "layer": [
     {"data": {"name": "cf"}, "mark": {"type": "line", "strokeWidth": 4},
      "encoding": {
       "x": {"field": "f", "type": "quantitative", "scale": {"domain": [0, 400000], "nice": false, "zero": false}, "axis": {"values": [0,50000,100000,150000,200000,250000,300000,350000,400000], "labelExpr": "format(datum.value / 100000, '~g')", "title": "Frequency/Hz", "titleX": 639, "titleY": 153}},
       "y": {"field": "a", "type": "quantitative", "scale": {"domain": [0, 0.01], "nice": false}, "axis": {"values": [0,0.005,0.01], "labelExpr": "format(datum.value, '~g')", "title": "Amplitude/V", "titleX": -203, "titleY": 178}}}},
     {"data": {"values": [{}]}, "mark": {"type": "text", "text": "×10", "align": "right", "baseline": "middle", "dx": -24, "dy": 134, "fontSize": 54},
      "encoding": {"x": {"datum": 400000}, "y": {"datum": 0}}},
     {"data": {"values": [{}]}, "mark": {"type": "text", "text": "5", "align": "right", "baseline": "middle", "dx": 0, "dy": 115, "fontSize": 38},
      "encoding": {"x": {"datum": 400000}, "y": {"datum": 0}}}
    ]}
   ]
  },
  {
   "bounds": "flush",
   "spacing": 231,
   "title": {"text": "(d)", "offset": 94, "dx": 621},
   "vconcat": [
    {"width": 1378, "height": 399, "layer": [
     {"data": {"name": "dt"}, "mark": {"type": "line", "strokeWidth": 3.5},
      "encoding": {
       "x": {"field": "t", "type": "quantitative", "scale": {"domain": [0, 6.5], "nice": false, "zero": false}, "axis": {"values": [0,1,2,3,4,5,6], "labelExpr": "format(datum.value, '~g')", "title": "Time/s", "titleX": 604, "titleY": 161}},
       "y": {"field": "v", "type": "quantitative", "scale": {"domain": [-0.05, 0.05], "nice": false}, "axis": {"values": [-0.05,0,0.05], "labelExpr": "replace(format(datum.value, '~g'), '−', '-')", "title": "Amplitude/V", "titleX": -202, "titleY": 278}}}},
     {"data": {"values": [{}]}, "mark": {"type": "text", "text": "×10", "align": "right", "baseline": "middle", "dx": -47, "dy": 139, "fontSize": 54},
      "encoding": {"x": {"datum": 6.5}, "y": {"datum": -0.05}}},
     {"data": {"values": [{}]}, "mark": {"type": "text", "text": "-3", "align": "right", "baseline": "middle", "dx": -2, "dy": 118, "fontSize": 38},
      "encoding": {"x": {"datum": 6.5}, "y": {"datum": -0.05}}}
    ]},
    {"width": 1378, "height": 405, "layer": [
     {"data": {"name": "df"}, "mark": {"type": "line", "strokeWidth": 4},
      "encoding": {
       "x": {"field": "f", "type": "quantitative", "scale": {"domain": [0, 400000], "nice": false, "zero": false}, "axis": {"values": [0,50000,100000,150000,200000,250000,300000,350000,400000], "labelExpr": "format(datum.value / 100000, '~g')", "title": "Frequency/Hz", "titleX": 612, "titleY": 172}},
       "y": {"field": "a", "type": "quantitative", "scale": {"domain": [0, 0.01], "nice": false}, "axis": {"values": [0,0.005,0.01], "labelExpr": "format(datum.value, '~g')", "title": "Amplitude/V", "titleX": -202, "titleY": 198}}}},
     {"data": {"values": [{}]}, "mark": {"type": "text", "text": "×10", "align": "right", "baseline": "middle", "dx": -24, "dy": 134, "fontSize": 54},
      "encoding": {"x": {"datum": 400000}, "y": {"datum": 0}}},
     {"data": {"values": [{}]}, "mark": {"type": "text", "text": "5", "align": "right", "baseline": "middle", "dx": 0, "dy": 115, "fontSize": 38},
      "encoding": {"x": {"datum": 400000}, "y": {"datum": 0}}}
    ]}
   ]
  }
 ]
}
]
}
